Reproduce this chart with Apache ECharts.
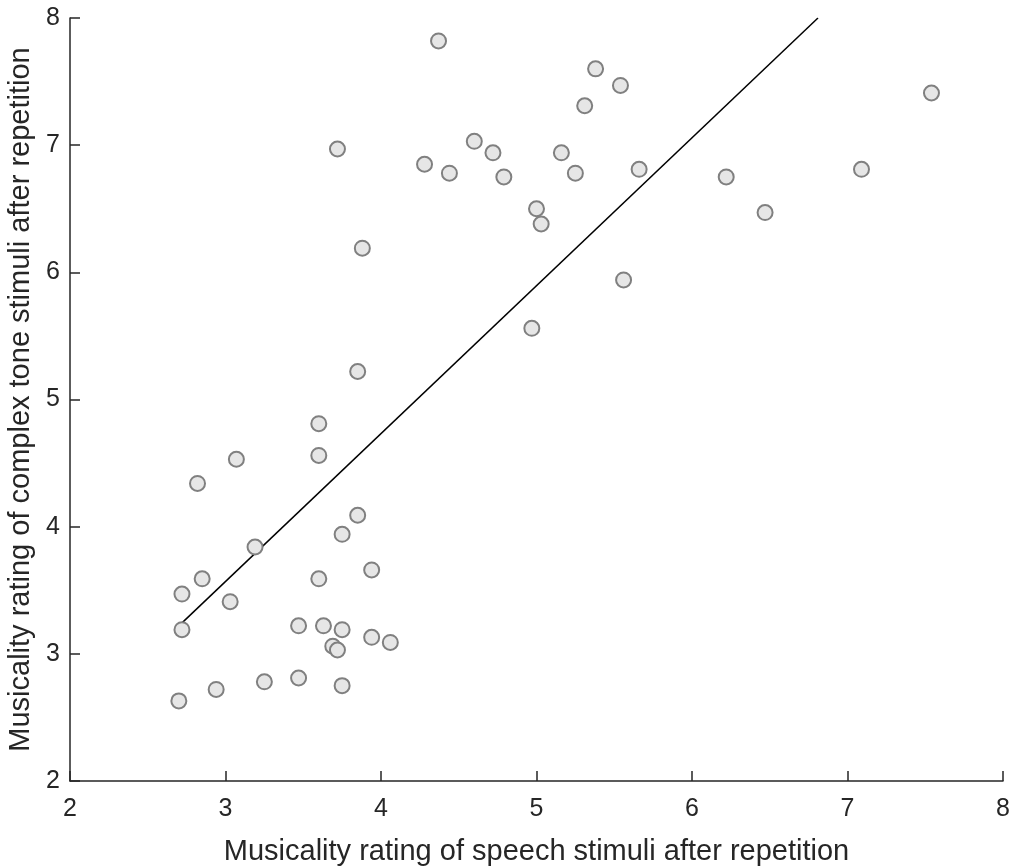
<!DOCTYPE html>
<html>
<head>
<meta charset="utf-8">
<script src="https://cdn.jsdelivr.net/npm/echarts@6/dist/echarts.min.js"></script>
<style>
  html, body { margin: 0; padding: 0; background: #fff; }
  #chart { width: 1014px; height: 868px; }
</style>
</head>
<body>
<div id="chart"></div>
<script>
// 读图得到的数据：x = 言语刺激重复后的音乐性评分，y = 复合音刺激
const speechRating = [
  4.37, 5.38, 5.54, 5.31, 7.54, 4.60, 3.72, 4.72, 5.16, 4.28,
  4.44, 4.79, 5.25, 5.66, 7.09, 6.22, 6.47, 5.00, 5.03, 3.88,
  5.56, 4.97, 3.85, 3.60, 3.60, 3.07, 2.82, 3.85, 3.75, 3.19,
  3.94, 3.60, 2.85, 2.72, 3.03, 3.47, 3.63, 3.75, 2.72, 3.94,
  4.06, 3.69, 3.72, 3.47, 3.25, 2.94, 3.75, 2.70
];
const toneRating = [
  7.82, 7.60, 7.47, 7.31, 7.41, 7.03, 6.97, 6.94, 6.94, 6.85,
  6.78, 6.75, 6.78, 6.81, 6.81, 6.75, 6.47, 6.50, 6.38, 6.19,
  5.94, 5.56, 5.22, 4.81, 4.56, 4.53, 4.34, 4.09, 3.94, 3.84,
  3.66, 3.59, 3.59, 3.47, 3.41, 3.22, 3.22, 3.19, 3.19, 3.13,
  3.09, 3.06, 3.03, 2.81, 2.78, 2.72, 2.75, 2.63
];
// 回归线的两个端点
const fitX = [2.70, 6.81];
const fitY = [3.22, 8.0];
const axisTicks = [2, 3, 4, 5, 6, 7, 8];

const ink = "#262626";
const font = "Liberation Sans, Arial, Helvetica, sans-serif";

function axisBase(name, gap, labelMargin) {
  return {
    type: "value",
    min: axisTicks[0], max: axisTicks[axisTicks.length - 1], interval: 1,
    name: name, nameLocation: "middle", nameGap: gap,
    nameTextStyle: { color: ink, fontSize: 29, fontFamily: font },
    axisLine: { show: true, lineStyle: { color: ink, width: 1.5 } },
    axisTick: { show: true, inside: true, length: 10, lineStyle: { color: ink, width: 1.5 } },
    axisLabel: { color: ink, fontSize: 25, fontFamily: font, margin: labelMargin, showMinLabel: true, showMaxLabel: true },
    splitLine: { show: false }
  };
}

const chart = echarts.init(document.getElementById("chart"), null, { renderer: "canvas" });
chart.setOption({
  backgroundColor: "#fff",
  animation: false,
  grid: { left: 70, top: 18, right: 11, bottom: 87, containLabel: false, outerBoundsMode: "none" },
  xAxis: axisBase("Musicality rating of speech stimuli after repetition", 56, 16),
  yAxis: axisBase("Musicality rating of complex tone stimuli after repetition", 33, 10),
  series: [
    {
      type: "line",
      data: fitX.map((x, i) => [x, fitY[i]]),
      showSymbol: false,
      lineStyle: { color: "#000", width: 1.5 },
      z: 3
    },
    {
      type: "scatter",
      data: speechRating.map((x, i) => [x, toneRating[i]]),
      symbol: "circle",
      symbolSize: 15,
      itemStyle: { color: "#e6e6e6", borderColor: "#808080", borderWidth: 2, opacity: 1 },
      z: 4
    }
  ]
});
</script>
</body>
</html>
